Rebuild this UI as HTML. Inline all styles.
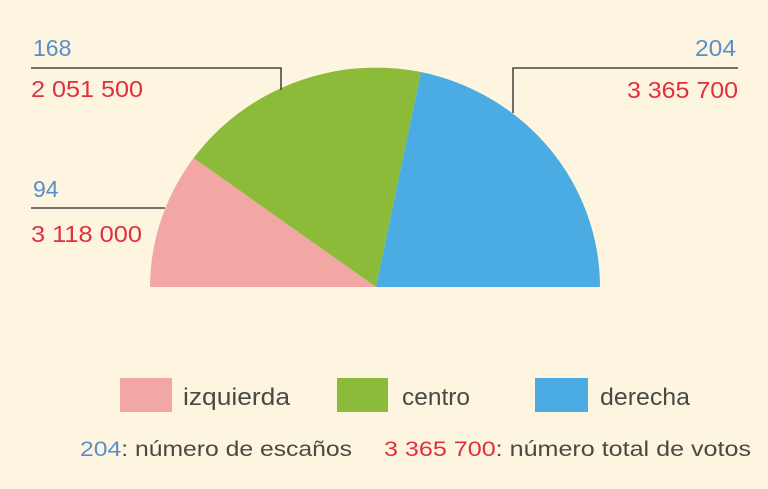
<!DOCTYPE html>
<html><head><meta charset="utf-8"><style>
html,body{margin:0;padding:0;background:#fdf5df;}
svg{display:block}
text{font-family:"Liberation Sans",sans-serif;}
</style></head><body>
<svg width="768" height="489" viewBox="0 0 768 489" xmlns="http://www.w3.org/2000/svg">
<rect width="768" height="489" fill="#fdf5df"/>
<path d="M376 287 L150 287 A226 220 0 0 1 193.6 158 Z" fill="#f2a7a5"/>
<path d="M376 287 L193.6 158 A226 220 0 0 1 421 72 Z" fill="#8cbb3a"/>
<path d="M376 287 L421 72 A226 220 0 0 1 600 287 Z" fill="#4aace2"/>
<g stroke="#4a4a44" stroke-width="1.6" fill="none">
<polyline points="31,68 281,68 281,90"/>
<line x1="31" y1="208" x2="165" y2="208"/>
<polyline points="738,68 513,68 513,113"/>
</g>
<g font-size="23">
<text x="33" y="56" fill="#5b8ec8">168</text>
<text x="31" y="97" fill="#e0303e" textLength="112" lengthAdjust="spacingAndGlyphs">2 051 500</text>
<text x="33" y="197" fill="#5b8ec8">94</text>
<text x="31" y="242" fill="#e0303e" textLength="111" lengthAdjust="spacingAndGlyphs">3 118 000</text>
<text x="695" y="56" fill="#5b8ec8" textLength="41" lengthAdjust="spacingAndGlyphs">204</text>
<text x="627" y="98" fill="#e0303e" textLength="111" lengthAdjust="spacingAndGlyphs">3 365 700</text>
</g>
<rect x="120" y="378" width="52" height="34" fill="#f2a7a5"/>
<rect x="337" y="378" width="51" height="34" fill="#8cbb3a"/>
<rect x="535" y="378" width="53" height="34" fill="#4aace2"/>
<g font-size="24" fill="#4a4a44">
<text x="183" y="405" textLength="107" lengthAdjust="spacingAndGlyphs">izquierda</text>
<text x="402" y="405" textLength="68" lengthAdjust="spacingAndGlyphs">centro</text>
<text x="600" y="405" textLength="90" lengthAdjust="spacingAndGlyphs">derecha</text>
</g>
<g font-size="21">
<text x="80" y="456" textLength="272" lengthAdjust="spacingAndGlyphs"><tspan fill="#5b8ec8">204</tspan><tspan fill="#4a4a44">: número de escaños</tspan></text>
<text x="384" y="456" textLength="367" lengthAdjust="spacingAndGlyphs"><tspan fill="#e0303e">3 365 700</tspan><tspan fill="#4a4a44">: número total de votos</tspan></text>
</g>
</svg>
</body></html>
